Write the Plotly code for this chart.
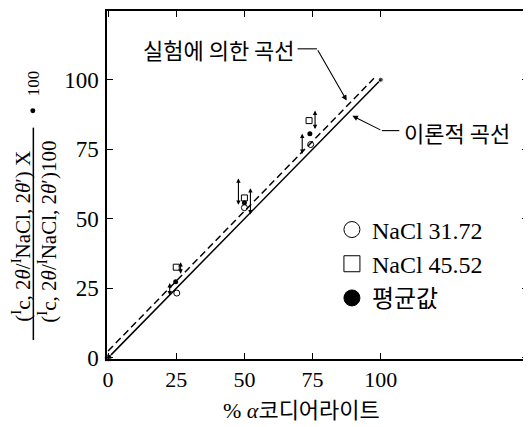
import plotly.graph_objects as go

# ---- data ----
circle_x = [25.2, 50.0, 74.3]      # NaCl 31.72
circle_y = [23.3, 54.0, 76.7]
square_x = [25.0, 50.0, 73.7]      # NaCl 45.52
square_y = [32.6, 57.5, 85.3]
mean_x = [24.8, 50.0, 74.0]        # 평균값
mean_y = [27.4, 55.8, 80.6]

err_x = [22.6, 26.6, 47.8, 52.2, 71.2, 75.9]
err_lo = [21.9, 29.7, 54.5, 51.0, 72.8, 81.7]
err_hi = [26.9, 34.4, 64.5, 61.0, 80.6, 88.9]

theory_x = [0, 100]
theory_y = [0, 100]
exper_x = [0, 97.5]
exper_y = [2.5, 100.5]

ticks = [0, 25, 50, 75, 100]
names = ["NaCl 31.72", "NaCl 45.52", "평균값"]

SERIF = "Liberation Serif, Noto Sans CJK KR"
KR = "Noto Sans CJK KR"

# page body has an 8px margin: figure origin sits at (8, 8) in the window
OX, OY = 8, 8
L, T = 107 - OX, 10 - OY          # plot area left/top in figure pixels
PW, PH = 423, 349                 # plot area size


def px(wx):
    return (wx - OX - L) / PW


def py(wy):
    return (T + PH - (wy - OY)) / PH


fig = go.Figure()

fig.add_trace(go.Scatter(x=exper_x, y=exper_y, mode="lines",
                         line=dict(color="black", width=1.5, dash="7px,4px"),
                         showlegend=False))
fig.add_trace(go.Scatter(x=theory_x, y=theory_y, mode="lines+markers",
                         line=dict(color="black", width=1.5),
                         marker=dict(color="black", size=[8, 5]),
                         cliponaxis=False, showlegend=False))

fig.add_trace(go.Scatter(x=circle_x, y=circle_y, mode="markers",
                         marker=dict(symbol="circle-open", size=6, color="black",
                                     line=dict(width=1)),
                         showlegend=False))
fig.add_trace(go.Scatter(x=square_x, y=square_y, mode="markers",
                         marker=dict(symbol="square-open", size=6, color="black",
                                     line=dict(width=1)),
                         showlegend=False))
fig.add_trace(go.Scatter(x=mean_x, y=mean_y, mode="markers",
                         marker=dict(symbol="circle", size=5, color="black"),
                         showlegend=False))

# legend-only entries (large symbols as in the reference)
for nm, sym in zip(names, ["circle-open", "square-open", "circle"]):
    fig.add_trace(go.Scatter(x=[None], y=[None], mode="markers", name=nm,
                             marker=dict(symbol=sym, size=16, color="black",
                                         line=dict(width=1, color="black"))))

annotations = []
for x, lo, hi in zip(err_x, err_lo, err_hi):
    annotations.append(dict(x=x, y=hi, ax=x, ay=lo, xref="x", yref="y",
                            axref="x", ayref="y", text="", showarrow=True,
                            arrowhead=2, startarrowhead=2, arrowside="end+start",
                            arrowsize=0.8, startarrowsize=0.8, arrowwidth=1.1,
                            arrowcolor="black"))

# curve labels
annotations.append(dict(x=40.5, y=111.1, xref="x", yref="y", text="실험에 의한 곡선",
                        xanchor="center", yanchor="middle",
                        showarrow=False, font=dict(family=KR, size=22, color="black")))
annotations.append(dict(x=87.5, y=92.5, ax=76.6, ay=111.1, xref="x", yref="y",
                        axref="x", ayref="y", text="", showarrow=True, arrowhead=2,
                        arrowsize=1, arrowwidth=1.1, arrowcolor="black"))
annotations.append(dict(x=127.8, y=81.2, xref="x", yref="y", text="이론적 곡선",
                        xanchor="center", yanchor="middle",
                        showarrow=False, font=dict(family=KR, size=22, color="black")))
annotations.append(dict(x=89.6, y=87.0, ax=100.4, ay=81.7, xref="x", yref="y",
                        axref="x", ayref="y", text="", showarrow=True, arrowhead=2,
                        arrowsize=1, arrowwidth=1.1, arrowcolor="black"))

# x-axis title
annotations.append(dict(x=px(302), y=py(411), xref="paper", yref="paper",
                        xanchor="center", yanchor="middle",
                        text="% <i>α</i>코디어라이트", showarrow=False,
                        font=dict(family=SERIF, size=22, color="black")))

# y-axis title (fraction)
annotations.append(dict(x=px(21), y=py(236), xref="paper", yref="paper",
                        xanchor="center", yanchor="middle",
                        text="(<sup>I</sup>c, 2<i>θ</i>/<sup>I</sup>NaCl, 2<i>θ</i>′) X",
                        textangle=-90, showarrow=False,
                        font=dict(family=SERIF, size=21, color="black")))
annotations.append(dict(x=px(47), y=py(231), xref="paper", yref="paper",
                        xanchor="center", yanchor="middle",
                        text="(<sup>I</sup>c, 2<i>θ</i>/<sup>I</sup>NaCl, 2<i>θ</i>′)100",
                        textangle=-90, showarrow=False,
                        font=dict(family=SERIF, size=21, color="black")))
annotations.append(dict(x=px(33), y=py(82), xref="paper", yref="paper",
                        xanchor="center", yanchor="middle",
                        text="100", textangle=-90, showarrow=False,
                        font=dict(family=SERIF, size=17, color="black")))

shapes = [
    dict(type="line", xref="paper", yref="paper",
         x0=px(33), x1=px(33), y0=py(127), y1=py(340),
         line=dict(color="black", width=1.5)),
    dict(type="circle", xref="paper", yref="paper",
         x0=px(30), x1=px(35), y0=py(107.5), y1=py(112.5),
         fillcolor="black", line=dict(color="black", width=0)),
    dict(type="line", xref="x", yref="y", x0=69.5, x1=76.6, y0=111.1, y1=111.1,
         line=dict(color="black", width=1.1)),
    dict(type="line", xref="x", yref="y", x0=100.4, x1=106.8, y0=81.7, y1=81.7,
         line=dict(color="black", width=1.1)),
]

FW, FH = 531 - OX, 427 - OY
fig.update_layout(
    width=FW, height=FH,
    margin=dict(l=L, r=FW - L - PW, t=T, b=FH - T - PH),
    paper_bgcolor="white", plot_bgcolor="white",
    annotations=annotations, shapes=shapes,
    legend=dict(x=px(333), y=py(207), xanchor="left", yanchor="top",
                bgcolor="rgba(0,0,0,0)", font=dict(family=SERIF, size=24, color="black"),
                itemsizing="trace", tracegroupgap=0),
    xaxis=dict(range=[-0.4, 154], tickvals=ticks, ticks="inside", ticklen=6,
               tickcolor="black", showline=True, linecolor="black", linewidth=1.5,
               mirror="ticks", showgrid=False, zeroline=False,
               tickfont=dict(family=SERIF, size=22, color="black"), ticklabelstandoff=0),
    yaxis=dict(range=[-0.4, 124.7], tickvals=ticks, ticks="inside", ticklen=6,
               tickcolor="black", showline=True, linecolor="black", linewidth=1.5,
               mirror="ticks", showgrid=False, zeroline=False,
               tickfont=dict(family=SERIF, size=23, color="black"), ticklabelstandoff=2),
)

fig.write_html("out.html")
